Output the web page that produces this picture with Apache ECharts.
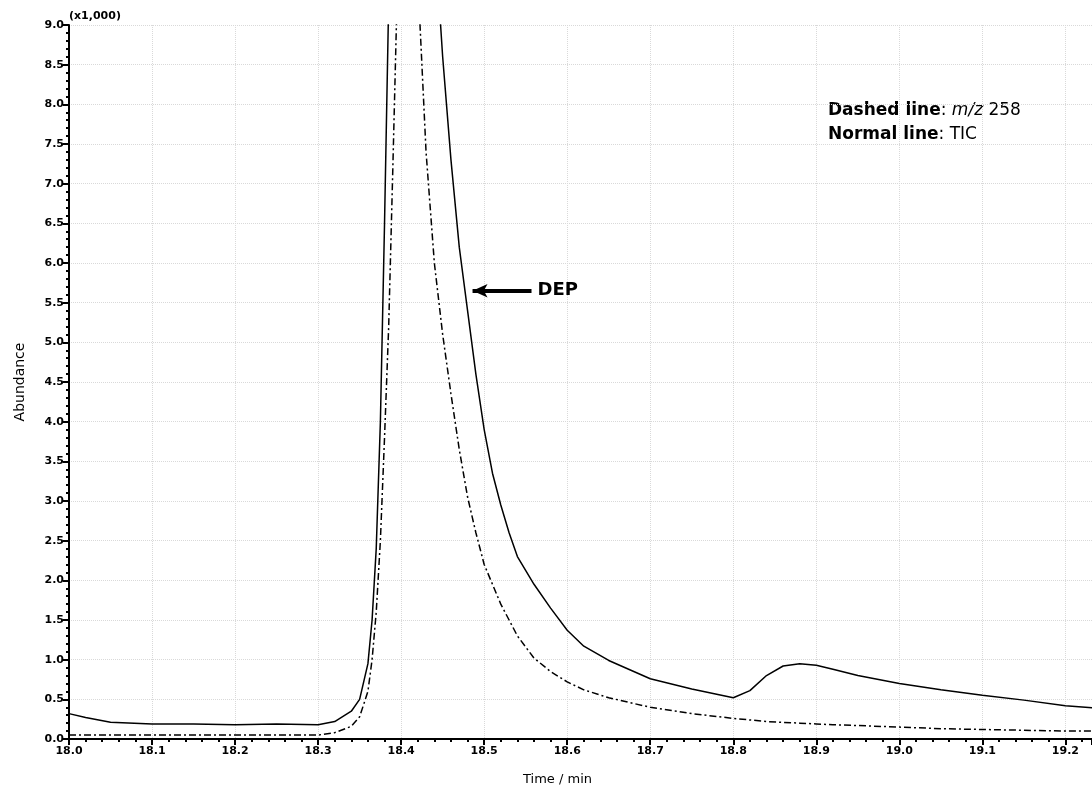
<!DOCTYPE html>
<html>
<head>
<meta charset="utf-8">
<script src="https://cdn.jsdelivr.net/npm/echarts@6/dist/echarts.min.js"></script>
<style>
  html, body { margin: 0; padding: 0; background: #fff; }
  #chart { width: 1092px; height: 794px; }
</style>
</head>
<body>
<div id="chart"></div>
<script>
// retention time (min)
var times = [18.00, 18.02, 18.05, 18.10, 18.15, 18.20, 18.25, 18.30, 18.32, 18.34,
  18.35, 18.36, 18.365, 18.37, 18.375, 18.38, 18.385, 18.39, 18.395, 18.40,
  18.41, 18.42, 18.43, 18.44, 18.45, 18.46, 18.47, 18.48, 18.49, 18.50,
  18.51, 18.52, 18.53, 18.54, 18.56, 18.58, 18.60, 18.62, 18.65, 18.70,
  18.75, 18.80, 18.82, 18.84, 18.86, 18.88, 18.90, 18.92, 18.95, 19.00,
  19.05, 19.10, 19.15, 19.20, 19.25];

// TIC (x1,000) - normal line
var tic = [0.32, 0.27, 0.21, 0.19, 0.19, 0.18, 0.19, 0.18, 0.22, 0.35,
  0.50, 0.95, 1.5, 2.4, 4.0, 6.5, 9.3, 12, 14, 15,
  15.5, 14.5, 12.5, 10.2, 8.6, 7.3, 6.2, 5.4, 4.6, 3.9,
  3.35, 2.95, 2.6, 2.3, 1.95, 1.65, 1.37, 1.17, 0.99, 0.76,
  0.63, 0.52, 0.61, 0.80, 0.92, 0.95, 0.93, 0.88, 0.80, 0.70,
  0.62, 0.55, 0.49, 0.42, 0.38];

// m/z 258 (x1,000) - dashed line
var mz258 = [0.05, 0.05, 0.05, 0.05, 0.05, 0.05, 0.05, 0.05, 0.08, 0.16,
  0.28, 0.6, 1.0, 1.6, 2.5, 3.8, 5.2, 7.2, 9.3, 11.5,
  12.5, 9.6, 7.4, 6.0, 5.1, 4.35, 3.65, 3.05, 2.6, 2.2,
  1.95, 1.7, 1.5, 1.3, 1.02, 0.85, 0.72, 0.62, 0.52, 0.40,
  0.32, 0.26, 0.24, 0.22, 0.21, 0.20, 0.19, 0.18, 0.17, 0.15,
  0.13, 0.12, 0.11, 0.10, 0.10];

// DEP arrow (tail, head) in data coords
var depArrow = [[18.557, 5.65], [18.486, 5.65]];

function pairs(xs, ys) {
  return xs.map(function (x, i) { return [x, ys[i]]; });
}

var labelFont = {
  color: '#000',
  fontFamily: 'DejaVu Sans',
  fontWeight: 'bold',
  fontSize: 11
};

var myChart = echarts.init(document.getElementById('chart'));
var option = {
  backgroundColor: '#fff',
  animation: false,
  grid: { left: 69, right: 0, top: 25, bottom: 55, containLabel: false },
  xAxis: [{
    type: 'value',
    min: 18.0,
    max: 19.232,
    interval: 0.1,
    name: 'Time / min',
    nameLocation: 'middle',
    nameGap: 34,
    nameTextStyle: { color: '#000', fontSize: 13, fontFamily: 'DejaVu Sans', padding: [0, 46, 0, 0] },
    axisLine: { show: true, onZero: false, lineStyle: { color: '#000', width: 2 } },
    axisTick: { show: true, length: 6, lineStyle: { color: '#000', width: 2 } },
    minorTick: { show: true, splitNumber: 5, length: 3, lineStyle: { color: '#000', width: 2 } },
    axisLabel: Object.assign({ margin: 7, showMaxLabel: false, formatter: function (v) { return v.toFixed(1); } }, labelFont),
    splitLine: { show: true, lineStyle: { color: '#d9d9d9', type: 'dotted', width: 1 } }
  }, {
    // top frame
    type: 'value',
    position: 'top',
    min: 18.0,
    max: 19.232,
    axisLine: { show: true, lineStyle: { color: '#000', width: 2 } },
    axisTick: { show: false },
    axisLabel: { show: false },
    splitLine: { show: false }
  }],
  yAxis: {
    type: 'value',
    min: 0,
    max: 9,
    interval: 0.5,
    name: 'Abundance',
    nameLocation: 'middle',
    nameGap: 42,
    nameTextStyle: { color: '#000', fontSize: 14, fontFamily: 'DejaVu Sans' },
    axisLine: { show: true, lineStyle: { color: '#000', width: 2 } },
    axisTick: { show: true, length: 6, lineStyle: { color: '#000', width: 2 } },
    minorTick: { show: true, splitNumber: 5, length: 3, lineStyle: { color: '#000', width: 2 } },
    axisLabel: Object.assign({ margin: 5, formatter: function (v) { return v.toFixed(1); } }, labelFont),
    splitLine: { show: true, lineStyle: { color: '#d9d9d9', type: 'dotted', width: 1 } }
  },
  series: [{
    name: 'TIC',
    type: 'line',
    data: pairs(times, tic),
    showSymbol: false,
    clip: true,
    lineStyle: { color: '#000', width: 1.5 },
    markLine: {
      silent: true,
      symbol: ['none', 'arrow'],
      symbolSize: [10, 15],
      lineStyle: { color: '#000', width: 4, type: 'solid' },
      label: {
        show: true,
        position: 'start',
        distance: 6,
        formatter: 'DEP',
        color: '#000',
        fontWeight: 'bold',
        fontSize: 18,
        fontFamily: 'DejaVu Sans'
      },
      data: [[{ coord: depArrow[0] }, { coord: depArrow[1] }]]
    }
  }, {
    name: 'm/z 258',
    type: 'line',
    data: pairs(times, mz258),
    showSymbol: false,
    clip: true,
    lineStyle: { color: '#000', width: 1.5, type: [7, 3, 2, 3] }
  }],
  graphic: [{
    type: 'text',
    left: 69,
    top: 11,
    style: { text: '(x1,000)', fill: '#000', font: 'bold 11px "DejaVu Sans"' }
  }, {
    type: 'text',
    left: 828,
    top: 99,
    style: {
      text: '{b|Dashed line}{n|: }{i|m/z}{n| 258}\n{b|Normal line}{n|: TIC}',
      lineHeight: 24,
      rich: {
        b: { fontWeight: 'bold', fontSize: 17, fontFamily: 'DejaVu Sans', fill: '#000', lineHeight: 24 },
        n: { fontSize: 17, fontFamily: 'DejaVu Sans', fill: '#000', lineHeight: 24 },
        i: { fontStyle: 'italic', fontSize: 17, fontFamily: 'DejaVu Sans', fill: '#000', lineHeight: 24 }
      }
    }
  }]
};
myChart.setOption(option);
</script>
</body>
</html>
